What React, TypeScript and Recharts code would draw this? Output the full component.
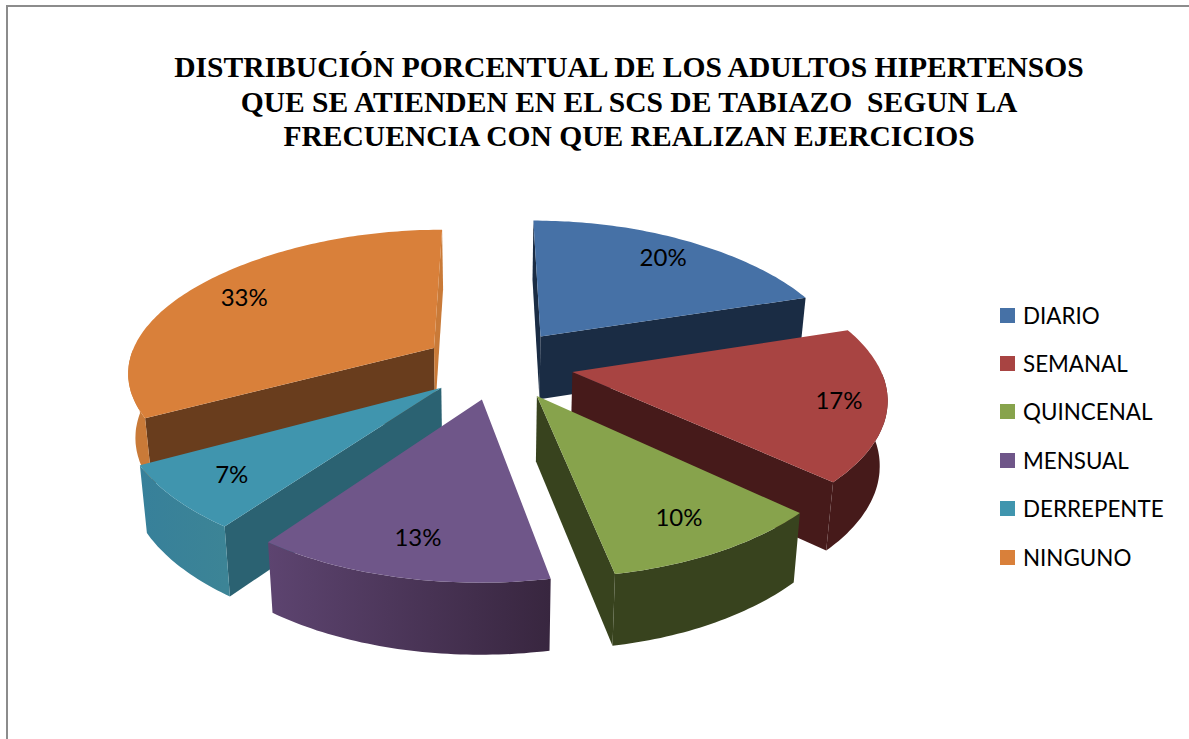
import { PieChart, Pie, Legend } from 'recharts'

const categories = ['DIARIO', 'SEMANAL', 'QUINCENAL', 'MENSUAL', 'DERREPENTE', 'NINGUNO']
const values = [20, 17, 10, 13, 7, 33]

const titleLines = [
  'DISTRIBUCIÓN PORCENTUAL DE LOS ADULTOS HIPERTENSOS',
  'QUE SE ATIENDEN EN EL SCS DE TABIAZO  SEGUN LA',
  'FRECUENCIA CON QUE REALIZAN EJERCICIOS',
]

const topColors = ['#4671a6', '#a84442', '#87a34c', '#6f5689', '#4095ae', '#d9803a']
const startWallColors = ['#1a2c44', '#461a1a', '#38431e', '#38263f', '#2b6272', '#693d1d']
const endWallColors = ['#1a2c44', '#461a1a', '#38431e', '#38263f', '#2b6272', '#c97a38']
const arcWallLeft = ['#1a2c44', '#461a1a', '#38431e', '#5d4470', '#37809a', '#c97a38']
const arcWallRight = ['#1a2c44', '#461a1a', '#38431e', '#38263f', '#3c8496', '#c97a38']
// draw order of the side walls, so nearer slices cover the ones behind
const wallPass = [1, 1, 1, 2, 1, 0]
const labelRadius = [0.82, 0.85, 0.8, 0.8, 0.8, 0.8]
// how far each slice is pulled out, sideways and towards/away from the viewer
const explodeX = [87, 82, 92, 35, 62, 65]
const explodeY = [86, 39, 66, 66, 62, 86]

const chartData = categories.map((name, i) => ({ name, value: values[i], fill: topColors[i] }))

const TILT = 0.47
const DEPTH = 64
const RAD = Math.PI / 180

// flat disc coordinates -> screen, with a bit of perspective
function project(X: number, Y: number, cx: number, cy: number, R: number) {
  const t = Y / R
  const p = 1 + 0.166 * t + 0.035 * t * t
  const widen = 0.025 * Math.max(0, 1 - t * t)
  return { x: cx + X * (p + widen), y: cy + TILT * Y * p, p }
}

function wedgePoint(i: number, angle: number, mid: number, r: number, cx: number, cy: number, R: number) {
  const X = explodeX[i] * Math.cos(mid * RAD) + r * Math.cos(angle * RAD)
  const Y = -explodeY[i] * Math.sin(mid * RAD) - r * Math.sin(angle * RAD)
  return project(X, Y, cx, cy, R)
}

function lower(pt: { x: number; y: number; p: number }, cx: number) {
  return { x: cx + (pt.x - cx) * 0.98, y: pt.y + DEPTH * (1 + (pt.p - 1) * 0.5) }
}

function toPath(points: { x: number; y: number }[]) {
  return points.map((pt, i) => `${i ? 'L' : 'M'}${pt.x.toFixed(1)},${pt.y.toFixed(1)}`).join(' ') + ' Z'
}

function rimPoints(props: any) {
  const { startAngle, endAngle, midAngle, outerRadius, cx, cy, name } = props
  const i = categories.indexOf(name)
  const steps = Math.max(2, Math.ceil(Math.abs(startAngle - endAngle)))
  const pts = []
  for (let s = 0; s <= steps; s++) {
    const a = startAngle + ((endAngle - startAngle) * s) / steps
    pts.push({ a, ...wedgePoint(i, a, midAngle, outerRadius, cx, cy, outerRadius) })
  }
  return pts
}

function apexOf(props: any) {
  const { midAngle, outerRadius, cx, cy, name } = props
  return wedgePoint(categories.indexOf(name), 0, midAngle, 0, cx, cy, outerRadius)
}

function SliceWalls(props: any, pass: number) {
  const i = categories.indexOf(props.name)
  if (wallPass[i] !== pass) return <g />
  const { cx } = props
  const rim = rimPoints(props)
  const apex = apexOf(props)
  const first = rim[0]
  const last = rim[rim.length - 1]
  const front = rim.filter((pt) => Math.sin(pt.a * RAD) <= 0)
  const gradId = `wall-${i}`
  const hasArc = front.length > 1
  const xs = front.map((pt) => pt.x)
  return (
    <g>
      {first.x < apex.x && <path d={toPath([apex, first, lower(first, cx), lower(apex, cx)])} fill={startWallColors[i]} />}
      {apex.x < last.x && <path d={toPath([apex, last, lower(last, cx), lower(apex, cx)])} fill={endWallColors[i]} />}
      {hasArc && (
        <>
          <defs>
            <linearGradient id={gradId} gradientUnits="userSpaceOnUse" x1={Math.min(...xs)} x2={Math.max(...xs)} y1={0} y2={0}>
              <stop offset="0%" stopColor={arcWallLeft[i]} />
              <stop offset="100%" stopColor={arcWallRight[i]} />
            </linearGradient>
          </defs>
          <path d={toPath([...front, ...front.map((pt) => lower(pt, cx)).reverse()])} fill={`url(#${gradId})`} />
        </>
      )}
    </g>
  )
}

function SliceTop(props: any) {
  const rim = rimPoints(props)
  return <path d={toPath([apexOf(props), ...rim])} fill={props.fill} />
}

function SliceLabel(props: any) {
  const { cx, cy, midAngle, outerRadius, value, name } = props
  const i = categories.indexOf(name)
  const pt = wedgePoint(i, midAngle, midAngle, outerRadius * labelRadius[i], cx, cy, outerRadius)
  return (
    <text x={pt.x} y={pt.y} textAnchor="middle" dominantBaseline="central" fontFamily="Lato" fontSize={24} fill="#000">
      {`${value}%`}
    </text>
  )
}

function LegendList({ payload }: any) {
  const items = (payload || []).filter((entry: any) => entry.type !== 'none')
  return (
    <div>
      {items.map((entry: any) => (
        <div key={entry.value} style={{ display: 'flex', alignItems: 'center', height: 48.4 }}>
          <span style={{ width: 15, height: 15, marginRight: 8, background: entry.color }} />
          <span style={{ fontFamily: 'Lato', fontSize: 22.4, color: '#000' }}>{entry.value}</span>
        </div>
      ))}
    </div>
  )
}

export default function App() {
  return (
    <div style={{ position: 'absolute', left: 0, top: 0, width: 1189, height: 739, background: '#fff', overflow: 'hidden' }}>
      <div style={{ position: 'absolute', left: 6, top: 5, right: 0, bottom: 0, borderLeft: '2px solid #8c8c8c', borderTop: '2px solid #8c8c8c' }} />
      <div
        style={{
          position: 'absolute', left: 0, top: 50, width: 1258, textAlign: 'center', whiteSpace: 'pre',
          fontFamily: '"Liberation Serif"', fontWeight: 700, fontSize: 29.55, lineHeight: '34.5px', color: '#000',
        }}
      >
        {titleLines.map((line) => <div key={line}>{line}</div>)}
      </div>
      <PieChart width={1189} height={739} margin={{ top: 0, right: 0, bottom: 0, left: 0 }} style={{ position: 'absolute', left: 0, top: 0 }}>
        {[0, 1, 2].map((pass) => (
          <Pie
            key={pass}
            data={chartData}
            dataKey="value"
            nameKey="name"
            cx={490}
            cy={368}
            outerRadius={300}
            startAngle={90}
            endAngle={-270}
            stroke="none"
            legendType="none"
            isAnimationActive={false}
            shape={(props: any) => SliceWalls(props, pass)}
          />
        ))}
        <Pie
          data={chartData}
          dataKey="value"
          nameKey="name"
          cx={490}
          cy={368}
          outerRadius={300}
          startAngle={90}
          endAngle={-270}
          stroke="none"
          legendType="square"
          isAnimationActive={false}
          shape={SliceTop}
          label={SliceLabel}
          labelLine={false}
        />
        <Legend
          layout="vertical"
          align="right"
          verticalAlign="top"
          itemSorter={null}
          content={LegendList}
          wrapperStyle={{ position: 'absolute', left: 1000, top: 291, width: 180 }}
        />
      </PieChart>
    </div>
  )
}
